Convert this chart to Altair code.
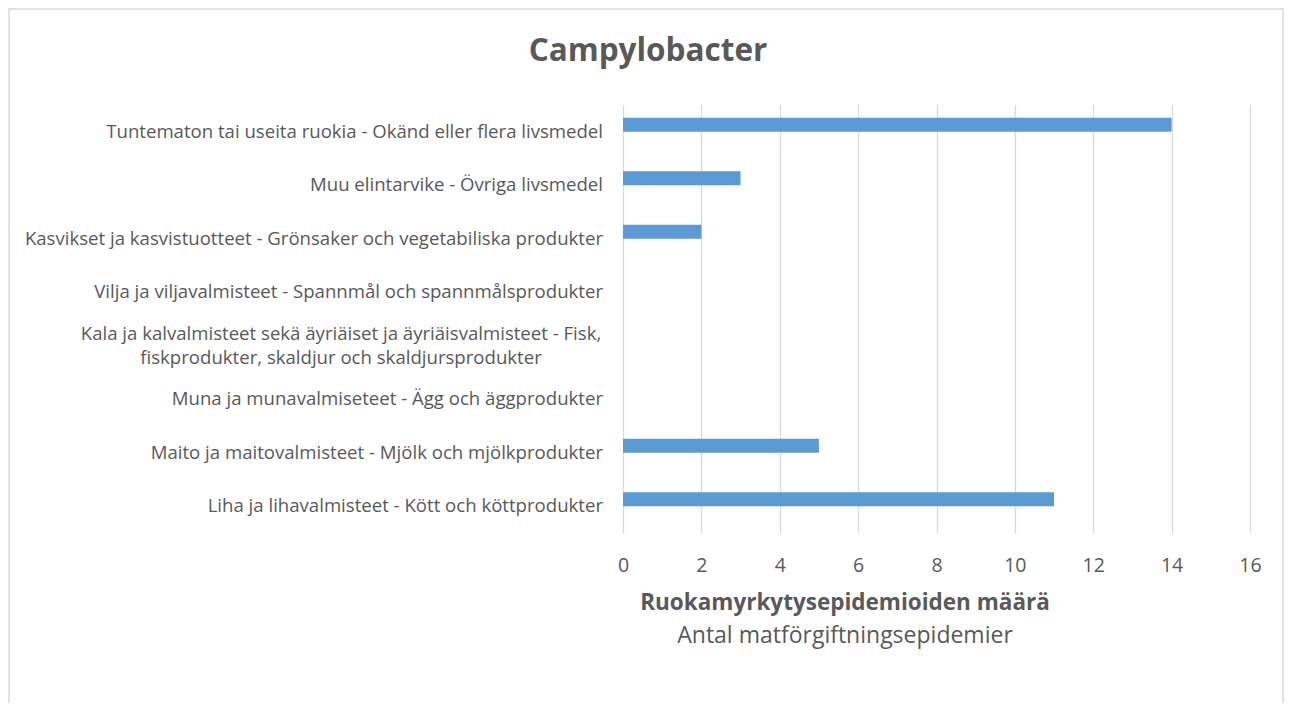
import altair as alt
import pandas as pd

categories = [
    "Tuntematon tai useita ruokia - Okänd eller flera livsmedel",
    "Muu elintarvike - Övriga livsmedel",
    "Kasvikset ja kasvistuotteet - Grönsaker och vegetabiliska produkter",
    "Vilja ja viljavalmisteet - Spannmål och spannmålsprodukter",
    "Kala ja kalvalmisteet sekä äyriäiset ja äyriäisvalmisteet - Fisk,\nfiskprodukter, skaldjur och skaldjursprodukter",
    "Muna ja munavalmiseteet - Ägg och äggprodukter",
    "Maito ja maitovalmisteet - Mjölk och mjölkprodukter",
    "Liha ja lihavalmisteet - Kött och köttprodukter",
]
values = [14, 3, 2, 0, 0, 0, 5, 11]
x_ticks = [0, 2, 4, 6, 8, 10, 12, 14, 16]
title_text = "Campylobacter"
axis_title_fi = "Ruokamyrkytysepidemioiden määrä"
axis_title_sv = "Antal matförgiftningsepidemier"

df = pd.DataFrame({"cat": categories, "val": values})
one = pd.DataFrame({"k": [0]})

FONT = "Open Sans"
TXT = "#595959"
GRID = "#D9D9D9"
BLUE = "#5B9BD5"

yenc = alt.Y("cat:N", sort=categories,
             scale=alt.Scale(paddingInner=0, paddingOuter=0),
             axis=alt.Axis(labels=False, ticks=False, domain=False, grid=False, title=None))

bars = alt.Chart(df).mark_bar(size=14, yOffset=-7, color=BLUE).encode(
    x=alt.X("val:Q", scale=alt.Scale(domain=[0, 16], nice=False),
            axis=alt.Axis(values=x_ticks, grid=True, gridColor=GRID, gridWidth=1.3,
                          domain=False, ticks=False, labelFontSize=19.5, labelColor=TXT,
                          labelFont=FONT, labelPadding=23, labelFlush=False,
                          labelOverlap=False, title=None)),
    y=yenc,
)

LBL = 18.6
labels_single = alt.Chart(df).transform_filter(
    "indexof(datum.cat, '\\n') < 0"
).mark_text(align="right", baseline="middle", font=FONT, fontSize=LBL, color=TXT).encode(
    x=alt.value(-20), y=alt.Y("cat:N", sort=categories), text="cat:N"
)

labels_multi = alt.Chart(df).transform_filter(
    "indexof(datum.cat, '\\n') >= 0"
).mark_text(align="center", baseline="middle", font=FONT, fontSize=LBL, color=TXT,
            lineBreak="\n", lineHeight=24, dy=-12).encode(
    x=alt.value(-282), y=alt.Y("cat:N", sort=categories), text="cat:N"
)

title = alt.Chart(one).mark_text(align="center", baseline="middle", font=FONT,
                                 fontSize=31.5, fontWeight="bold", color=TXT).encode(
    x=alt.value(25), y=alt.value(-53), text=alt.value(title_text)
)

ax_fi = alt.Chart(one).mark_text(align="center", baseline="middle", font=FONT,
                                 fontSize=22.5, fontWeight="bold", color=TXT).encode(
    x=alt.value(222), y=alt.value(498), text=alt.value(axis_title_fi)
)
ax_sv = alt.Chart(one).mark_text(align="center", baseline="middle", font=FONT,
                                 fontSize=23, color=TXT).encode(
    x=alt.value(222), y=alt.value(531), text=alt.value(axis_title_sv)
)

border = alt.Chart(one).mark_rect(fill=None, stroke=GRID, strokeWidth=1.5).encode(
    x=alt.value(-614), x2=alt.value(660), y=alt.value(-96), y2=alt.value(700)
)

chart = alt.layer(border, bars, labels_single, labels_multi, title, ax_fi, ax_sv).properties(
    width=627, height=428,
    padding={"left": 615, "top": 97, "right": 34, "bottom": 170},
    autosize=alt.AutoSizeParams(type="none"),
    background="white",
).configure_view(strokeWidth=0, stroke="transparent")

chart.save("out.html", embed_options={"renderer": "svg", "actions": False})
